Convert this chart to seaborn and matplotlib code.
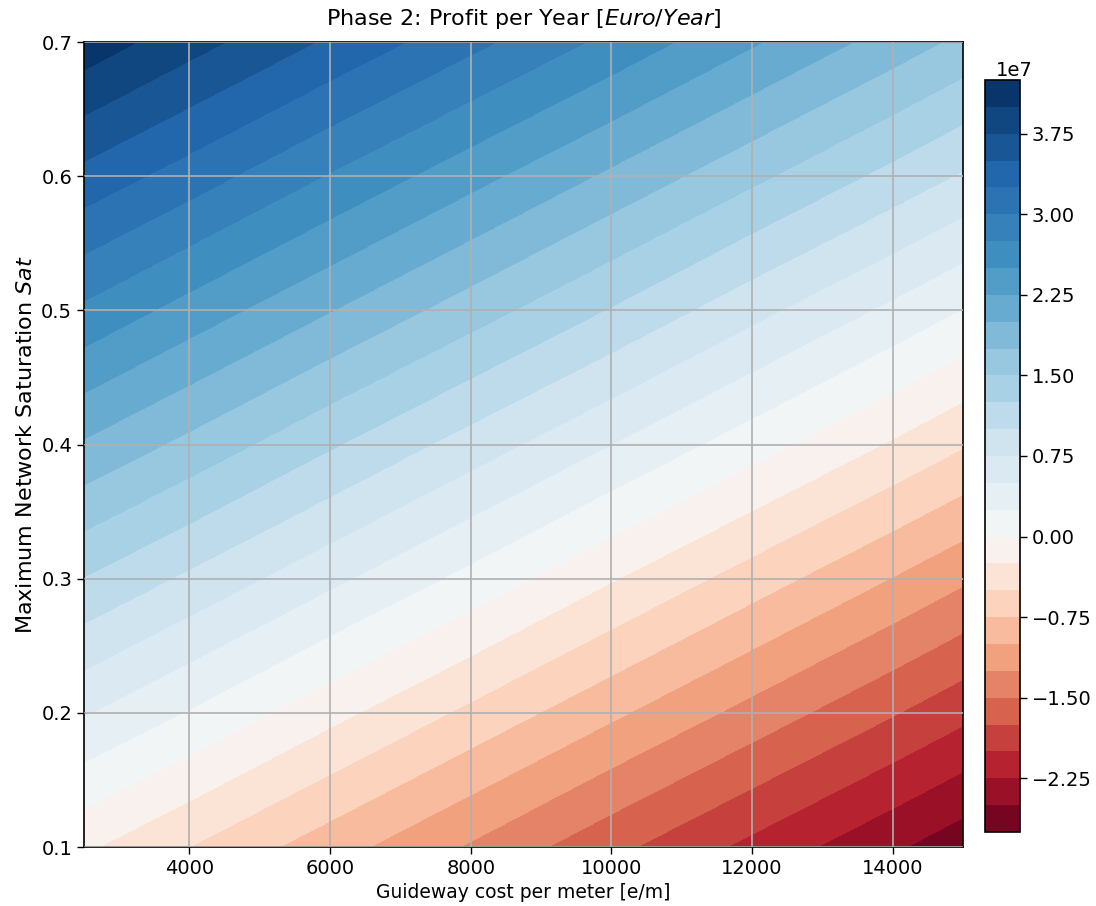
"""
Phase 2 profit map: guideway cost vs. maximum network saturation.
Filled contours of yearly profit, diverging colours centred on zero.
"""

import numpy as np
import matplotlib
matplotlib.use("Agg")
import matplotlib.pyplot as plt
from matplotlib.colors import TwoSlopeNorm
import seaborn as sns

# Grid: guideway cost [e/m] and saturation Sat
COST = [2500, 4000, 6000, 8000, 10000, 12000, 14000, 15000]
SAT = [0.1, 0.2, 0.3, 0.4, 0.5, 0.6, 0.7]

# Profit per year in units of 1e7 Euro, one row per SAT value
PROFIT_1E7 = [
    [-0.21, -0.50, -0.89, -1.28, -1.68, -2.07, -2.46, -2.66],
    [0.52, 0.23, -0.17, -0.56, -0.95, -1.34, -1.73, -1.93],
    [1.24, 0.95, 0.56, 0.17, -0.23, -0.62, -1.01, -1.21],
    [1.97, 1.68, 1.28, 0.89, 0.50, 0.11, -0.28, -0.48],
    [2.70, 2.40, 2.01, 1.62, 1.23, 0.83, 0.44, 0.24],
    [3.42, 3.13, 2.73, 2.34, 1.95, 1.56, 1.17, 0.97],
    [4.15, 3.85, 3.46, 3.07, 2.68, 2.28, 1.89, 1.69],
]

LEVELS_1E7 = [-2.75 + 0.25 * i for i in range(29)]   # -2.75 ... 4.25
CBAR_TICKS_1E7 = [-2.25, -1.5, -0.75, 0.0, 0.75, 1.5, 2.25, 3.0, 3.75]
X_TICKS = [4000, 6000, 8000, 10000, 12000, 14000]
Y_TICKS = [0.1, 0.2, 0.3, 0.4, 0.5, 0.6, 0.7]

sns.set_theme(style="ticks", rc={"axes.edgecolor": "black",
                                 "xtick.color": "black", "ytick.color": "black",
                                 "axes.labelcolor": "black", "text.color": "black"})
plt.rcParams["font.family"] = ["DejaVu Sans"]


def main():
    X, Y = np.meshgrid(COST, SAT)
    Z = np.array(PROFIT_1E7) * 1e7
    levels = np.array(LEVELS_1E7) * 1e7

    fig = plt.figure(figsize=(10.96, 9.06), dpi=100)
    ax = fig.add_axes([0.0766, 0.0651, 0.8021, 0.8885])
    cax = fig.add_axes([0.8987, 0.0817, 0.032, 0.830])

    cmap = sns.color_palette("RdBu", as_cmap=True)
    norm = TwoSlopeNorm(vmin=levels[0], vcenter=0.0, vmax=levels[-1])
    cs = ax.contourf(X, Y, Z, levels=levels, cmap=cmap, norm=norm)

    ax.set_xlim(COST[0], COST[-1])
    ax.set_ylim(SAT[0], SAT[-1])
    ax.set_xticks(X_TICKS)
    ax.set_yticks(Y_TICKS)
    ax.tick_params(labelsize=14, length=5, width=1)
    ax.grid(True, color="#b0b0b0", linewidth=1.2)
    ax.set_axisbelow(False)
    for sp in ax.spines.values():
        sp.set_linewidth(1.2)

    ax.set_xlabel("Guideway cost per meter [e/m]", fontsize=13.5)
    ax.set_ylabel("Maximum Network Saturation $Sat$", fontsize=16)
    ax.set_title("Phase 2: Profit per Year [$Euro/Year$]", fontsize=16, pad=12)

    cb = fig.colorbar(cs, cax=cax)
    cb.set_ticks(np.array(CBAR_TICKS_1E7) * 1e7)
    cb.ax.tick_params(labelsize=14, length=5, width=1)
    off = cb.ax.yaxis.get_offset_text()
    off.set_fontsize(14)
    off.set_x(1.37)
    cb.outline.set_linewidth(1.2)

    fig.savefig("out.png", dpi=100)
    plt.close(fig)


if __name__ == "__main__":
    main()
